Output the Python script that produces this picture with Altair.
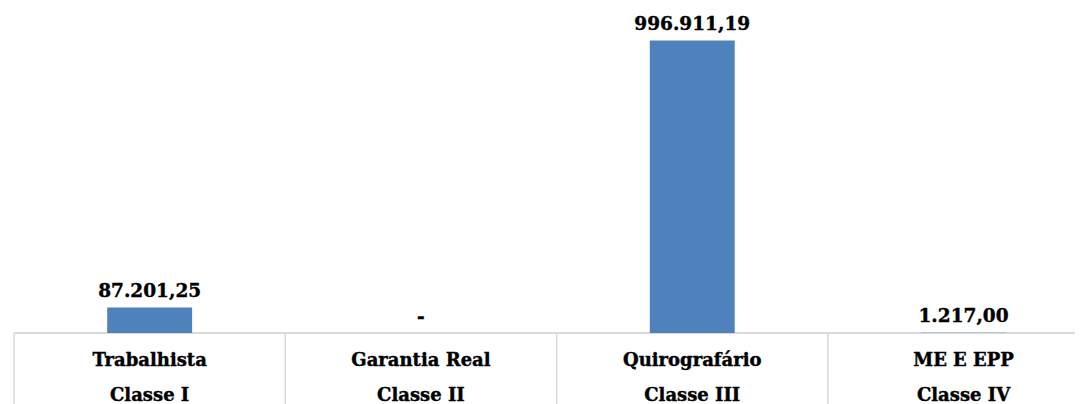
import altair as alt
import pandas as pd

cats = ["Trabalhista", "Garantia Real", "Quirografário", "ME E EPP"]
classes = ["Classe I", "Classe II", "Classe III", "Classe IV"]
values = [87201.25, 0.0, 996911.19, 1217.00]
labels = ["87.201,25", "-", "996.911,19", "1.217,00"]

df = pd.DataFrame({"cat": cats, "classe": classes, "value": values, "label": labels})

FONT = "DejaVu Serif"
GRID = "#d9d9d9"
BAR = "#4F81BD"

W = 1067
H = 396

xscale = alt.Scale(domain=cats, range=[6, 1091.2], paddingInner=0, paddingOuter=0)
yscale = alt.Scale(domain=[0, 996911.19], range=[325, 32.5], nice=False, zero=True)

x_center = alt.X("cat:N", scale=xscale, axis=None, sort=cats)
x_start = alt.X("cat:N", scale=xscale, axis=None, sort=cats, bandPosition=0)

base = alt.Chart(df)

hline = base.mark_rule(color=GRID, strokeWidth=1.5).encode(
    x=alt.value(6), x2=alt.value(W), y=alt.value(325)
)

vlines = base.mark_rule(color=GRID, strokeWidth=1.5).encode(
    x=x_start, y=alt.value(325), y2=alt.value(H)
)

bars = base.mark_bar(color=BAR, width=alt.RelativeBandSize(0.313)).encode(
    x=x_center, y=alt.Y("value:Q", scale=yscale, axis=None)
)

text_style = dict(font=FONT, fontWeight="bold", color="black",
                  stroke="black", strokeWidth=0.4, baseline="alphabetic")

vals = base.mark_text(fontSize=18.5, dy=-10.5, **text_style).encode(
    x=x_center, y=alt.Y("value:Q", scale=yscale, axis=None), text="label:N"
)

line1 = base.mark_text(fontSize=18, **text_style).encode(
    x=x_center, y=alt.value(358), text="cat:N"
)

line2 = base.mark_text(fontSize=18, **text_style).encode(
    x=x_center, y=alt.value(392.7), text="classe:N"
)

chart = alt.layer(hline, vlines, bars, vals, line1, line2).properties(
    width=W, height=H,
    autosize=alt.AutoSizeParams(type="none"),
    padding=0,
).configure_view(stroke=None)

chart.save("out.html", embed_options={"renderer": "svg", "actions": False})
